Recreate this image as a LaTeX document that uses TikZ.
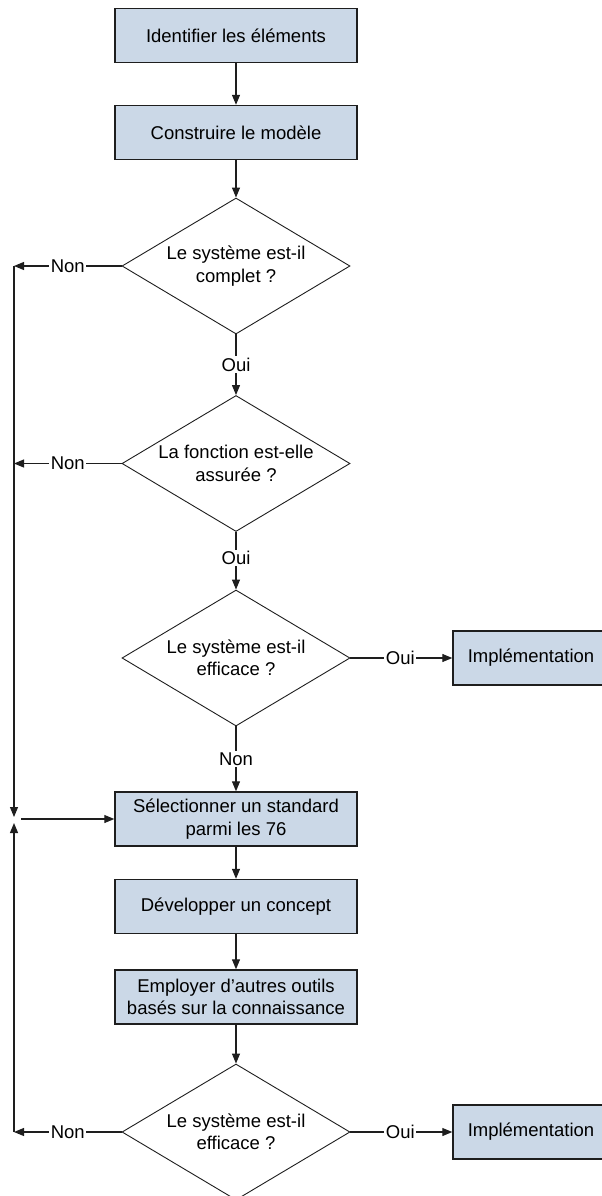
\documentclass[tikz,border=0pt]{standalone}
\usepackage{fontspec}
\setmainfont{Liberation Sans}
\usetikzlibrary{arrows.meta,shapes.geometric}
\definecolor{boxfill}{RGB}{203,216,231}
\definecolor{edge}{RGB}{30,30,30}
\begin{document}
\begin{tikzpicture}[x=1pt,y=-1pt,
  every node/.style={font=\fontsize{18.5}{22.5}\selectfont, text=black},
  proc/.style={draw=edge, line width=1.4pt, fill=boxfill, minimum width=242pt,
    minimum height=54pt, align=center, inner sep=2pt},
  impl/.style={proc, minimum width=156pt},
  decision/.style={diamond, draw=edge, line width=0.9pt, fill=white,
    minimum width=228pt, minimum height=136pt, aspect=1.68, align=center, inner sep=0pt},
  conn/.style={draw=edge, line width=1.1pt, -{Triangle[length=10pt,width=8pt]}},
  wire/.style={draw=edge, line width=1.1pt},
  lab/.style={fill=white, inner sep=1.5pt}]
\useasboundingbox (0,0) rectangle (602,1196);
\begin{scope}
\clip (0,0) rectangle (602,1196);

% main column of steps and tests
\node[proc] (b1) at (236,35.5) {Identifier les éléments};
\node[proc] (b2) at (236,132.5) {Construire le modèle};
\node[decision] (d1) at (236,266) {Le système est-il\\complet ?};
\node[decision] (d2) at (236,463.5) {La fonction est-elle\\assurée ?};
\node[decision] (d3) at (236,658) {Le système est-il\\efficace ?};
\node[proc] (b3) at (236,819) {Sélectionner un standard\\parmi les 76};
\node[proc] (b4) at (236,906.5) {Développer un concept};
\node[proc] (b5) at (236,997) {Employer d’autres outils\\basés sur la connaissance};
\node[decision] (d4) at (236,1132) {Le système est-il\\efficace ?};

% outcome boxes on the right
\node[impl] (i1) at (531,658) {Implémentation};
\node[impl] (i2) at (531,1132) {Implémentation};

% return spine on the left
\coordinate (n1) at (14,266);
\coordinate (n2) at (14,463.5);
\coordinate (jd) at (14,817);
\coordinate (ju) at (14,823);
\coordinate (js) at (21,819);
\coordinate (n4) at (14,1132);

% straight flow
\draw[conn] (b1) -- (b2);
\draw[conn] (b2) -- (d1);
\draw[conn] (d1) -- node[lab, pos=0.5] {Oui} (d2);
\draw[conn] (d2) -- node[lab, pos=0.45] {Oui} (d3);
\draw[conn] (d3) -- node[lab, pos=0.5] {Non} (b3);
\draw[conn] (b3) -- (b4);
\draw[conn] (b4) -- (b5);
\draw[conn] (b5) -- (d4);

% "Oui" exits to the right
\draw[conn] (d3.east) -- node[lab, pos=0.49] {Oui} (i1.west);
\draw[conn] (d4.east) -- node[lab, pos=0.49] {Oui} (i2.west);

% "Non" exits to the left
\draw[conn] (d1.west) -- node[lab, pos=0.5] {Non} (n1);
\draw[conn] (d2.west) -- node[lab, pos=0.5] {Non} (n2);
\draw[conn] (d4.west) -- node[lab, pos=0.5] {Non} (n4);
\draw[conn] (n1) -- (jd);
\draw[conn] (n4) -- (ju);
\draw[conn] (js) -- (b3.west);
\end{scope}
\end{tikzpicture}
\end{document}
